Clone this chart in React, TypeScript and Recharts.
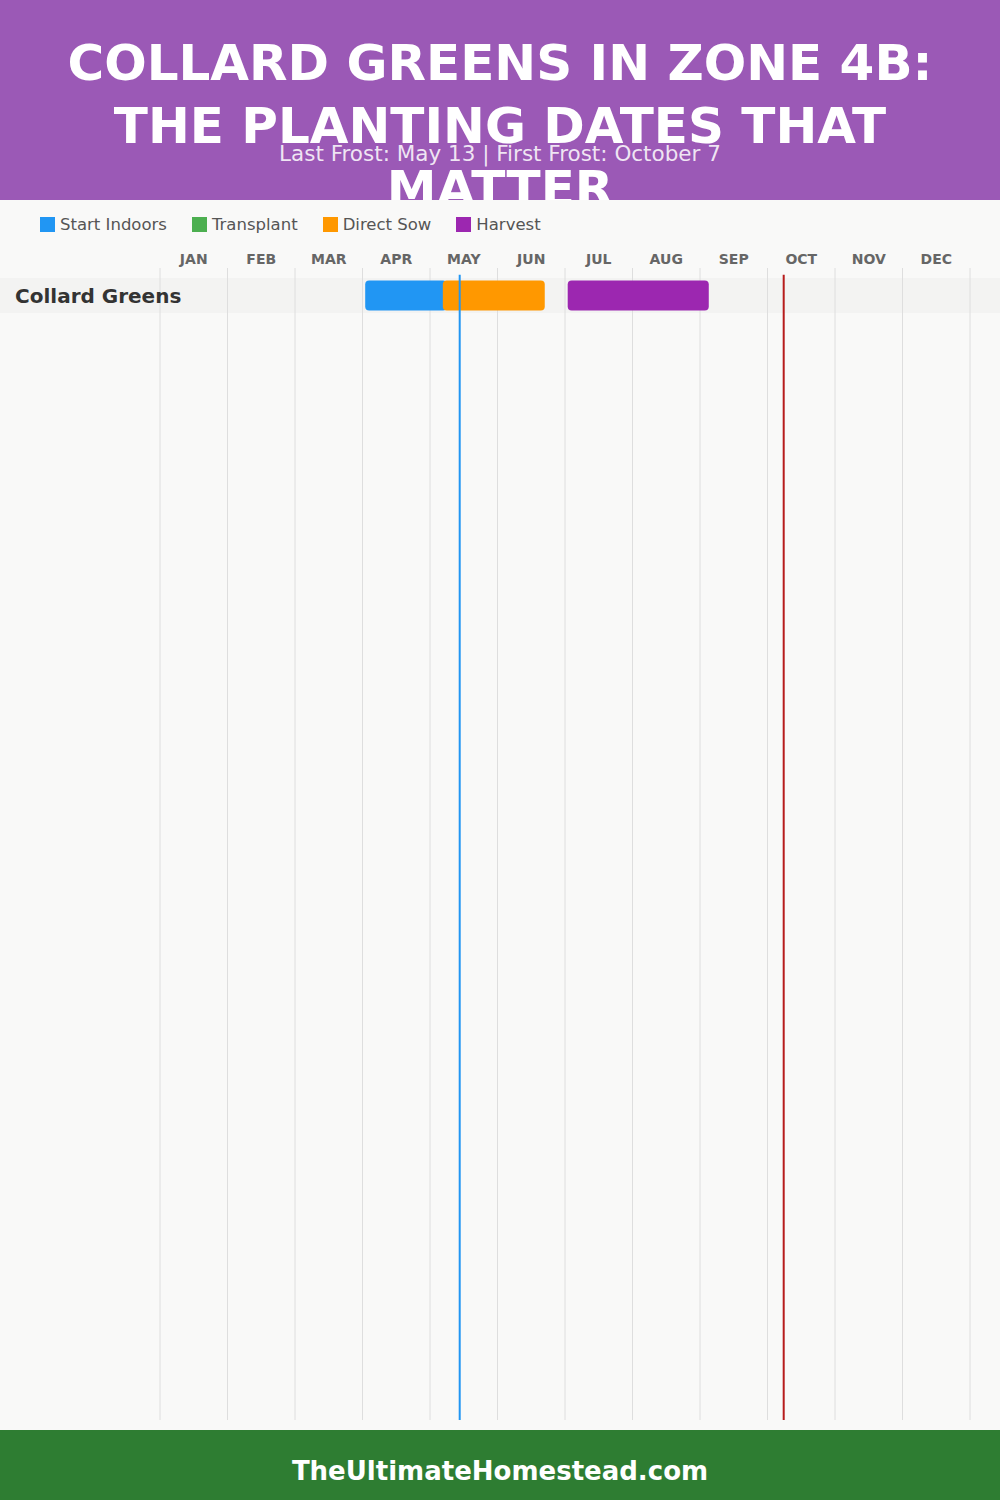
import React from 'react';
import { BarChart, Bar, XAxis, YAxis, CartesianGrid, ReferenceLine, Legend } from 'recharts';

// months and crop rows
const months = ['JAN', 'FEB', 'MAR', 'APR', 'MAY', 'JUN', 'JUL', 'AUG', 'SEP', 'OCT', 'NOV', 'DEC'];
const crops = ['Collard Greens'];
const seriesOrder = ['Start Indoors', 'Transplant', 'Direct Sow', 'Harvest'];

// phase ranges in fractional months (0 = Jan 1, 12 = end of Dec)
const startIndoors: ([number, number] | null)[] = [[3.04, 4.25]];
const transplant: ([number, number] | null)[] = [null];
const directSow: ([number, number] | null)[] = [[4.19, 5.7]];
const harvest: ([number, number] | null)[] = [[6.04, 8.13]];

const lastFrost = 4.44; // May 13
const firstFrost = 9.24; // Oct 7

const gridTicks = [0, 1, 2, 3, 4, 5, 6, 7, 8, 9, 10, 11, 12];
const labelTicks = [0.5, 1.5, 2.5, 3.5, 4.5, 5.5, 6.5, 7.5, 8.5, 9.5, 10.5, 11.5];

const ROWS_MAX = 32.63; // visible row slots down the page

const rows = crops.map((name, i) => ({
  name,
  pos: i + 0.5,
  indoors: startIndoors[i],
  transplant: transplant[i],
  sow: directSow[i],
  harvest: harvest[i],
}));

const FONT = '"DejaVu Sans", "Noto Sans", sans-serif';

const CropTick = ({ y, payload }: any) => (
  <text x={15} y={y} dy={8} fill="#333" fontSize={20} fontWeight={700} fontFamily={FONT}>
    {crops[Math.floor(payload.value)]}
  </text>
);

const LegendContent = ({ payload }: any) => {
  const items = [...(payload || [])].sort(
    (a: any, b: any) => seriesOrder.indexOf(a.value) - seriesOrder.indexOf(b.value)
  );
  return (
    <div style={{ display: 'flex', gap: 25, fontFamily: FONT, fontSize: 16.5, color: '#555' }}>
      {items.map((p: any) => (
        <div key={p.value} style={{ display: 'flex', alignItems: 'center' }}>
          <span style={{ width: 15, height: 15, background: p.color, marginRight: 5, display: 'inline-block' }} />
          <span>{p.value}</span>
        </div>
      ))}
    </div>
  );
};

export default function App() {
  return (
    <div style={{ position: 'relative', width: 1000, height: 1500, background: '#f9f9f8', overflow: 'hidden', fontFamily: FONT }}>
      <style>{'body{margin:0}'}</style>

      {/* header */}
      <div style={{ position: 'absolute', left: 0, top: 0, width: 1000, height: 200, background: '#9b59b6', overflow: 'hidden' }}>
        <div style={{ position: 'absolute', top: 32, left: 0, width: 1000, textAlign: 'center', color: '#fff', fontWeight: 700, fontSize: 50, lineHeight: '63px' }}>
          <div>COLLARD GREENS IN ZONE 4B:</div>
          <div>THE PLANTING DATES THAT</div>
          <div>MATTER</div>
        </div>
        <div style={{ position: 'absolute', top: 141, left: 0, width: 1000, textAlign: 'center', color: 'rgba(255,255,255,0.85)', fontSize: 21.5 }}>
          Last Frost: May 13 | First Frost: October 7
        </div>
      </div>

      {/* row background */}
      <div style={{ position: 'absolute', left: 0, top: 278, width: 1000, height: 35, background: '#f3f3f2' }} />

      <div style={{ position: 'absolute', left: 0, top: 200 }}>
        <BarChart
          layout="vertical"
          width={1000}
          height={1220}
          data={rows}
          margin={{ top: 38, right: 30, bottom: 0, left: 0 }}
        >
          <CartesianGrid horizontal={false} verticalValues={gridTicks} stroke="#dedede" xAxisId="x" yAxisId="a" />
          <XAxis
            xAxisId="x"
            type="number"
            orientation="top"
            domain={[0, 12]}
            ticks={labelTicks}
            interval={0}
            tickFormatter={(v: number) => months[Math.floor(v)]}
            axisLine={false}
            tickLine={false}
            height={30}
            tickMargin={0}
            tick={{ fill: '#666', fontSize: 14, fontWeight: 700, fontFamily: FONT, dy: 2 }}
          />
          <YAxis
            yAxisId="a"
            type="number"
            dataKey="pos"
            domain={[0, ROWS_MAX]}
            ticks={[0.5]}
            width={160}
            axisLine={false}
            tickLine={false}
            padding={{ top: 10, bottom: 0 }}
            tick={<CropTick />}
          />
          <YAxis yAxisId="b" type="number" dataKey="pos" domain={[0, ROWS_MAX]} padding={{ top: 10, bottom: 0 }} hide />
          <YAxis yAxisId="c" type="number" dataKey="pos" domain={[0, ROWS_MAX]} padding={{ top: 10, bottom: 0 }} hide />
          <YAxis yAxisId="d" type="number" dataKey="pos" domain={[0, ROWS_MAX]} padding={{ top: 10, bottom: 0 }} hide />
          <Legend
            layout="horizontal"
            verticalAlign="middle"
            align="center"
            content={<LegendContent />}
            wrapperStyle={{ top: 15, left: 40, width: 'auto', height: 'auto' }}
          />
          <Bar name="Start Indoors" dataKey="indoors" xAxisId="x" yAxisId="a" fill="#2196f3" barSize={30} radius={4} legendType="square" isAnimationActive={false} />
          <Bar name="Transplant" dataKey="transplant" xAxisId="x" yAxisId="b" fill="#4caf50" barSize={30} radius={4} legendType="square" isAnimationActive={false} />
          <Bar name="Direct Sow" dataKey="sow" xAxisId="x" yAxisId="c" fill="#ff9800" barSize={30} radius={4} legendType="square" isAnimationActive={false} />
          <Bar name="Harvest" dataKey="harvest" xAxisId="x" yAxisId="d" fill="#9c27b0" barSize={30} radius={4} legendType="square" isAnimationActive={false} />
          <ReferenceLine
            xAxisId="x"
            yAxisId="a"
            segment={[{ x: lastFrost, y: -0.09 }, { x: lastFrost, y: ROWS_MAX }]}
            ifOverflow="visible"
            stroke="#2196f3"
            strokeWidth={2}
          />
          <ReferenceLine
            xAxisId="x"
            yAxisId="a"
            segment={[{ x: firstFrost, y: -0.09 }, { x: firstFrost, y: ROWS_MAX }]}
            ifOverflow="visible"
            stroke="#b71c1c"
            strokeWidth={2}
          />
        </BarChart>
      </div>

      {/* footer */}
      <div style={{ position: 'absolute', left: 0, top: 1430, width: 1000, height: 70, background: '#2e7d32', color: '#fff', fontWeight: 700, fontSize: 26, display: 'flex', alignItems: 'center', justifyContent: 'center', paddingTop: 12, boxSizing: 'border-box' }}>
        TheUltimateHomestead.com
      </div>
    </div>
  );
}
